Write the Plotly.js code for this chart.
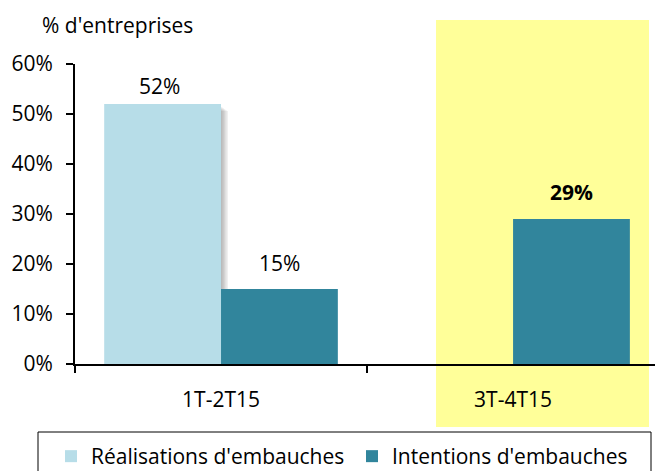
<!DOCTYPE html>
<html>
<head>
<meta charset="utf-8">
<script src="https://cdn.plot.ly/plotly-3.0.1.min.js"></script>
<style>html,body{margin:0;padding:0;background:#fff;}#chart{width:655px;height:471px;}</style>
</head>
<body>
<div id="chart"></div>
<script>
// ---- data ----
const categories = ["1T-2T15", "3T-4T15"];
const seriesNames = ["Réalisations d'embauches", "Intentions d'embauches"];
const realisations = [52, null];
const intentions = [15, 29];
const yTickValues = [0, 10, 20, 30, 40, 50, 60];
const yTickLabels = ["0%", "10%", "20%", "30%", "40%", "50%", "60%"];
const yTitle = "% d'entreprises";

// ---- style ----
const FONT = "'Open Sans', 'Noto Sans', sans-serif";
const FS = 21;
const colors = ["#B7DDE8", "#31859C"];
const highlight = "#FFFF99";

const traces = [
  {type: "bar", name: seriesNames[0], x: categories, y: realisations,
   marker: {color: colors[0]}, hoverinfo: "skip"},
  {type: "bar", name: seriesNames[1], x: categories, y: intentions,
   marker: {color: colors[1]}, hoverinfo: "skip"}
];

// value labels
const annotations = [];
const series = [realisations, intentions];
const labelShift = [[2, 11], [10, 11]];
series.forEach((vals, si) => {
  vals.forEach((v, ci) => {
    if (v === null) return;
    const bold = ci === 1;
    annotations.push({
      xref: "x", yref: "y", x: categories[ci], y: v,
      xshift: si === 0 ? -62 : 58, yshift: labelShift[si][ci],
      yanchor: "bottom", showarrow: false,
      text: bold ? "<b>" + v + "%</b>" : v + "%",
      font: {family: FONT, size: FS, color: "#000"}
    });
  });
});

// soft drop shadow on the right of the "Réalisations" bar
const shadowShapes = [];
realisations.forEach((v, ci) => {
  if (v === null) return;
  for (let k = 1; k <= 5; k++) {
    shadowShapes.push({
      type: "rect", layer: "below", xref: "x", yref: "y",
      xsizemode: "pixel", xanchor: ci, x0: -110, x1: k * 1.4,
      ysizemode: "pixel", yanchor: v, y0: -2 - k, y1: -190,
      fillcolor: "rgba(0,0,0,0.06)", line: {width: 0}
    });
  }
});

const layout = {
  width: 655, height: 471,
  margin: {l: 75, r: 0, t: 64, b: 107, autoexpand: false},
  paper_bgcolor: "#fff", plot_bgcolor: "rgba(0,0,0,0)",
  font: {family: FONT, size: FS, color: "#000"},
  title: {text: yTitle, x: 42/655, xanchor: "left", xref: "container",
          y: 1 - 26/471, yanchor: "middle", yref: "container",
          font: {family: FONT, size: FS, color: "#000"}},
  barmode: "group", bargap: 0.2, bargroupgap: 0,
  showlegend: true,
  legend: {orientation: "h", x: -24/580, xanchor: "left", y: -72/300, yanchor: "top",
           borderwidth: 0, bgcolor: "rgba(0,0,0,0)", entrywidth: 256, entrywidthmode: "pixels",
           font: {family: FONT, size: FS, color: "#000"}, traceorder: "normal"},
  xaxis: {type: "category", range: [-0.5, 1.486], tickson: "boundaries",
          ticks: "outside", ticklen: 7, tickwidth: 2, tickcolor: "#000",
          showline: true, linecolor: "#000", linewidth: 2, showgrid: false,
          zeroline: false, fixedrange: true, ticklabelstandoff: 16,
          tickfont: {family: FONT, size: FS, color: "#000"}},
  yaxis: {range: [0, 60], tickvals: yTickValues, ticktext: yTickLabels,
          ticks: "outside", ticklen: 7, tickwidth: 2, tickcolor: "#000",
          showline: true, linecolor: "#000", linewidth: 2, showgrid: false,
          zeroline: false, fixedrange: true, ticklabelstandoff: 9,
          tickfont: {family: FONT, size: FS, color: "#000"}},
  shapes: [
    {type: "rect", xref: "paper", yref: "paper", layer: "below",
     x0: 361/580, x1: 574/580, y0: -63/300, y1: 344/300,
     fillcolor: highlight, line: {width: 0}}
  ].concat(shadowShapes).concat([
    {type: "rect", xref: "paper", yref: "paper", layer: "above",
     x0: -37/580, x1: 576/580, y0: -68/300, y1: -120/300,
     fillcolor: "rgba(0,0,0,0)", line: {color: "#000", width: 1}}
  ]),
  annotations: annotations
};

Plotly.newPlot("chart", traces, layout, {displayModeBar: false, staticPlot: true});
</script>
</body>
</html>
